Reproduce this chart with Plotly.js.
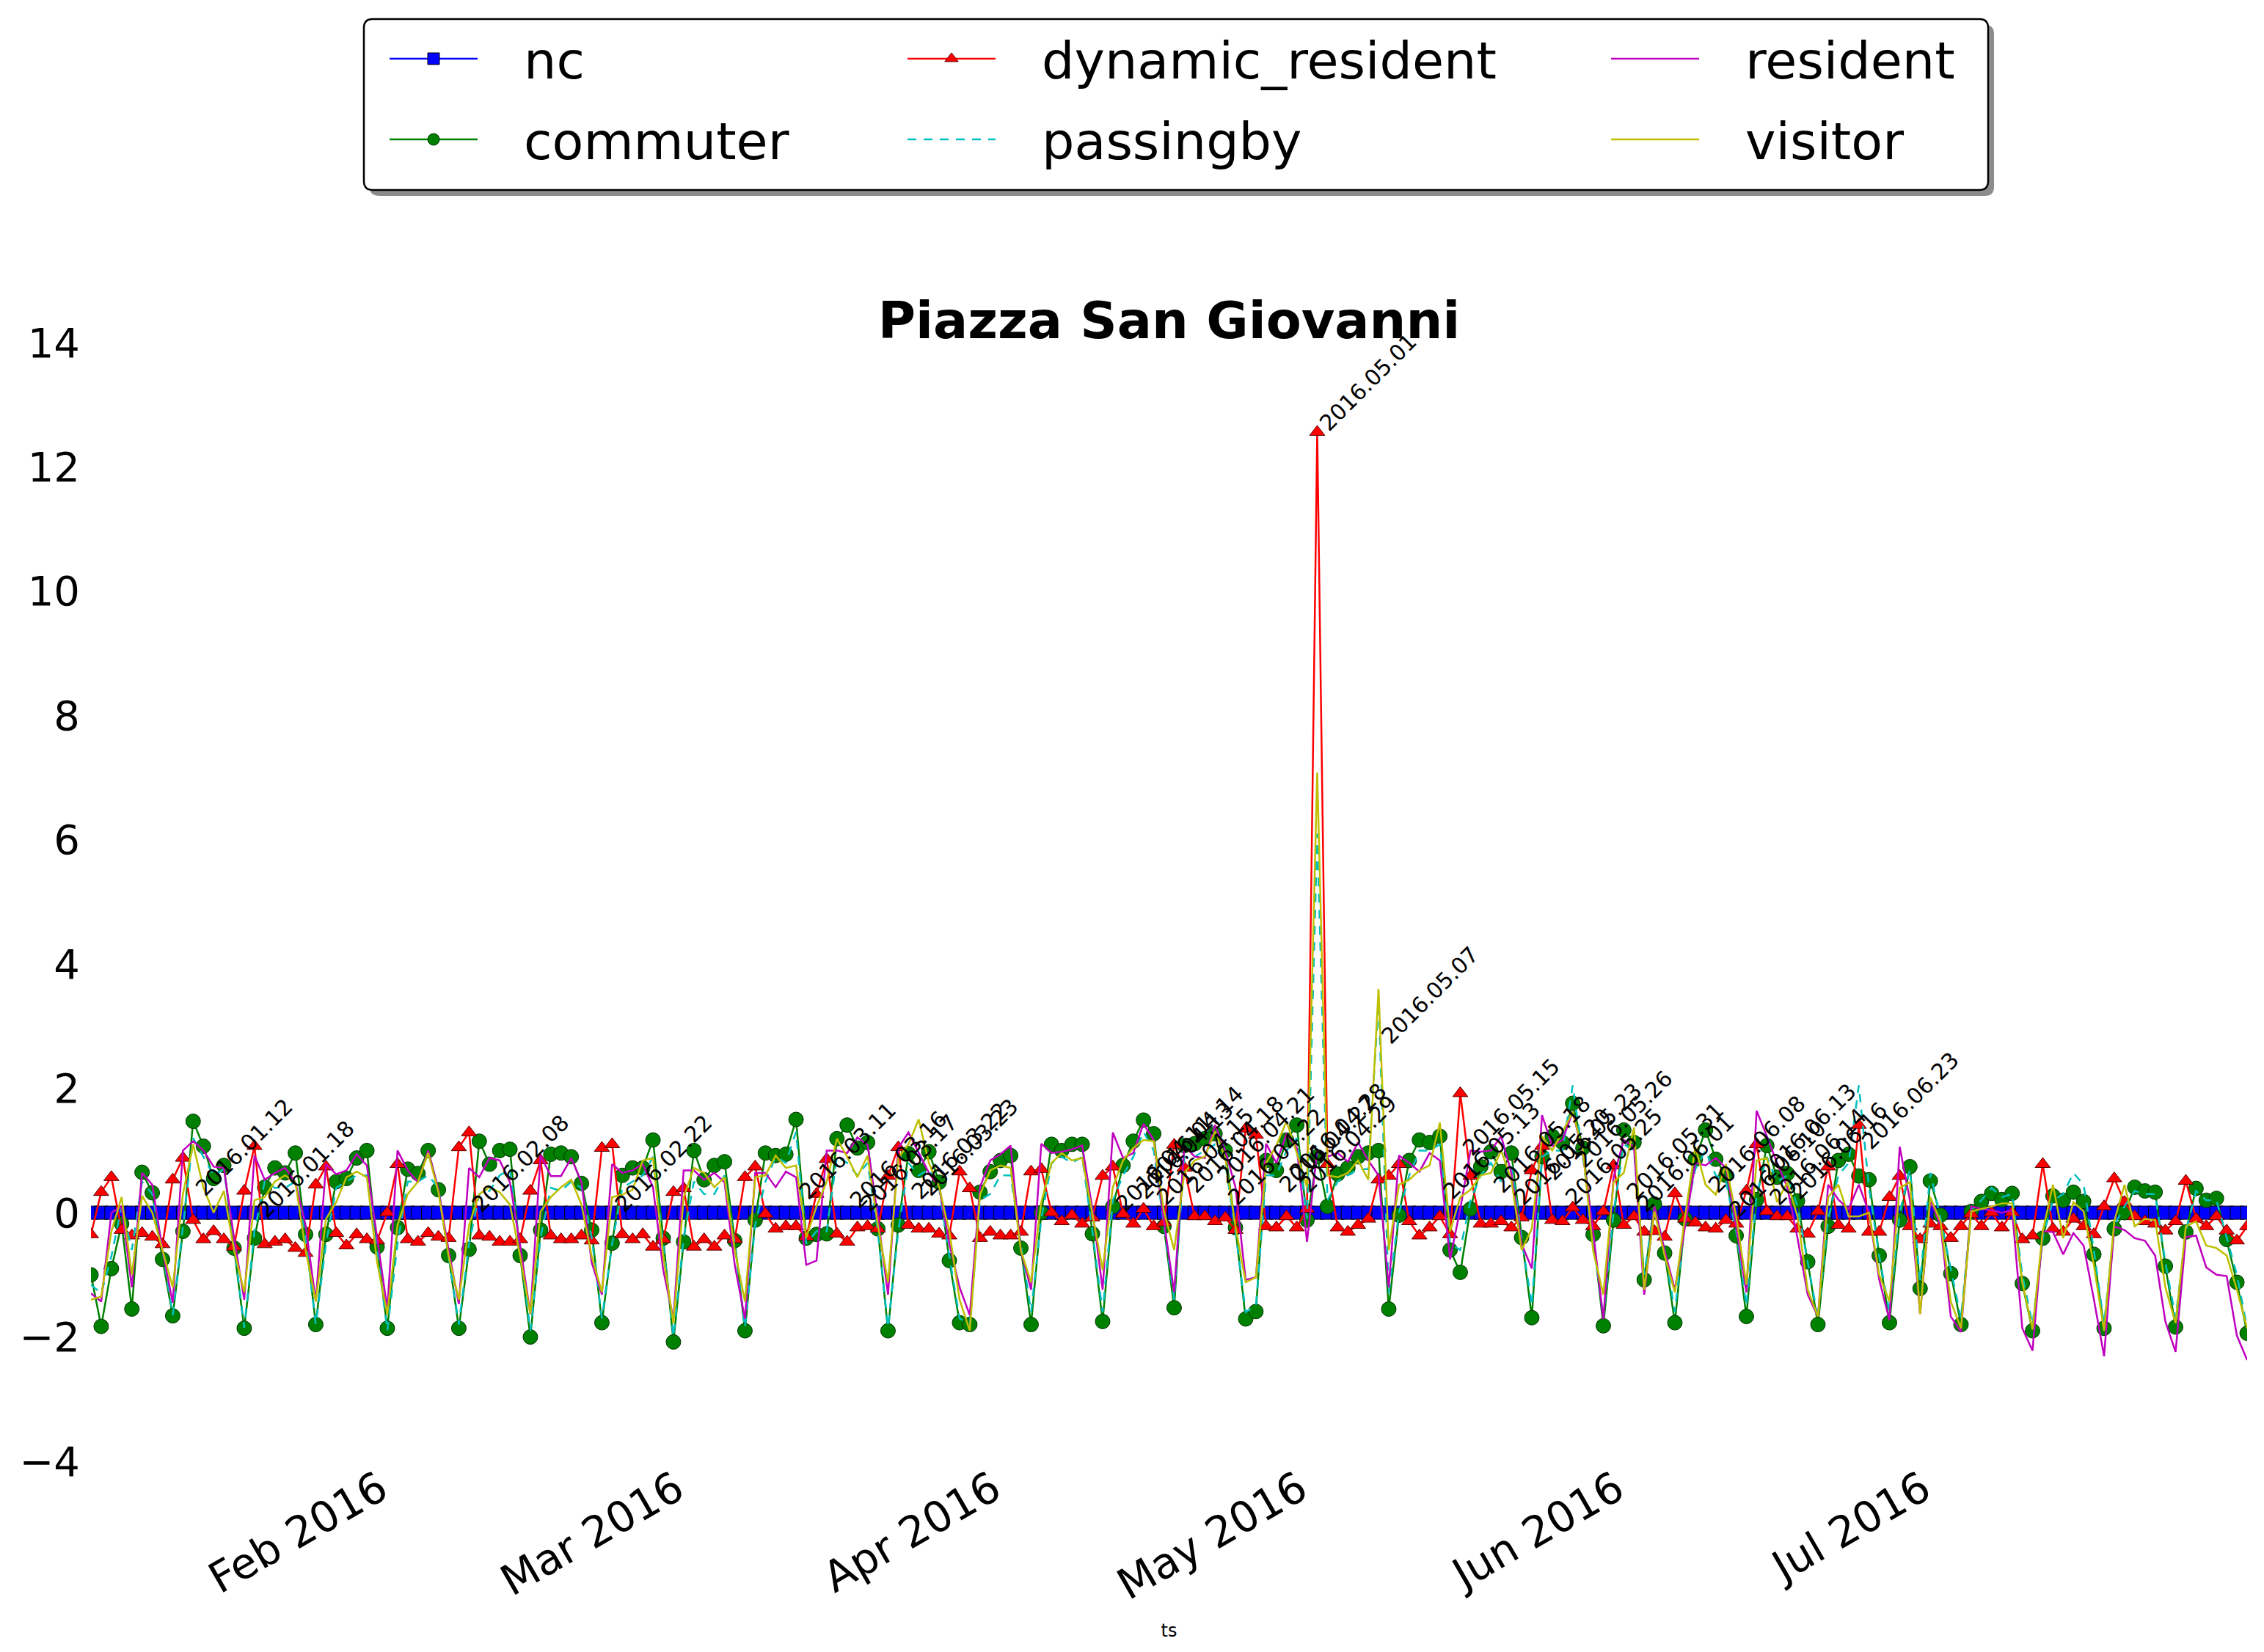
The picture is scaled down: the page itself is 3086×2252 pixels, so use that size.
<!DOCTYPE html>
<html>
<head>
<meta charset="utf-8">
<script src="https://cdn.plot.ly/plotly-3.0.1.min.js"></script>
<style>html,body{margin:0;padding:0;background:#fff;}#chart{width:3086px;height:2252px;}</style>
</head>
<body>
<div id="chart"></div>
<script>
// ---- data (daily values, starting 2016-01-02) ----
const startDate = [2016, 0, 2];

const nc = [
0,0,0,0,0,0,0,0,0,0, 0,0,0,0,0,0,0,0,0,0, 0,0,0,0,0,0,0,0,0,0, 0,0,0,0,0,0,0,0,0,0,
0,0,0,0,0,0,0,0,0,0, 0,0,0,0,0,0,0,0,0,0, 0,0,0,0,0,0,0,0,0,0, 0,0,0,0,0,0,0,0,0,0,
0,0,0,0,0,0,0,0,0,0, 0,0,0,0,0,0,0,0,0,0, 0,0,0,0,0,0,0,0,0,0, 0,0,0,0,0,0,0,0,0,0,
0,0,0,0,0,0,0,0,0,0, 0,0,0,0,0,0,0,0,0,0, 0,0,0,0,0,0,0,0,0,0, 0,0,0,0,0,0,0,0,0,0,
0,0,0,0,0,0,0,0,0,0, 0,0,0,0,0,0,0,0,0,0, 0,0,0,0,0,0,0,0,0,0, 0,0,0,0,0,0,0,0,0,0,
0,0,0,0,0,0,0,0,0,0, 0,0
];

const commuter = [
-1.0,-1.83,-0.9,-0.18,-1.55,0.65,0.32,-0.75,-1.66,-0.3,
1.47,1.07,0.55,0.76,-0.57,-1.86,-0.41,0.41,0.72,0.64,
0.96,-0.35,-1.8,-0.35,0.5,0.55,0.88,1.0,-0.55,-1.86,
-0.24,0.7,0.63,1.0,0.37,-0.69,-1.86,-0.59,1.15,0.78,
1.0,1.02,-0.69,-2.0,-0.28,0.94,0.96,0.9,0.47,-0.28,
-1.77,-0.49,0.6,0.72,0.72,1.17,-0.41,-2.08,-0.47,1.0,
0.53,0.76,0.82,-0.45,-1.9,-0.12,0.96,0.92,0.94,1.5,
-0.41,-0.35,-0.34,1.19,1.41,1.04,1.13,-0.26,-1.9,-0.2,
0.95,0.68,0.98,0.49,-0.77,-1.77,-1.8,0.33,0.66,0.84,
0.92,-0.57,-1.8,0.0,1.1,1.0,1.1,1.1,-0.34,-1.75,
0.1,0.76,1.15,1.49,1.27,-0.22,-1.53,1.08,1.11,1.19,
1.27,1.0,-0.24,-1.71,-1.59,0.84,0.68,1.17,1.41,-0.12,
0.9,0.1,0.62,0.72,0.9,0.96,1.0,-1.55,-0.04,0.84,
1.17,1.13,1.23,-0.6,-0.96,0.06,0.74,0.98,0.66,0.96,
-0.4,-1.69,0.9,1.23,1.13,1.76,1.04,-0.35,-1.82,-0.12,
1.33,1.13,-1.08,0.14,-0.65,-1.77,-0.1,0.86,1.33,0.86,
0.6,-0.37,-1.67,0.21,1.08,0.57,0.63,0.19,-0.79,-1.8,
-0.22,0.84,0.94,0.59,0.53,-0.69,-1.77,-0.12,0.74,-1.22,
0.51,-0.04,-0.98,-1.8,0.02,0.18,0.31,0.21,0.31,-1.14,
-1.9,-0.41,0.27,0.2,0.33,0.18,-0.67,-1.86,-0.26,0.0,
0.41,0.35,0.33,-0.86,-1.84,-0.31,0.39,0.2,0.23,-0.43,
-1.12,-1.94
];

const dynamicResident = [
-0.35,0.33,0.57,-0.28,-0.37,-0.33,-0.39,-0.51,0.53,0.88,
-0.12,-0.43,-0.3,-0.43,-0.55,0.35,1.07,-0.51,-0.47,-0.43,
-0.57,-0.65,0.45,0.74,-0.33,-0.53,-0.35,-0.43,-0.45,0.0,
0.78,-0.43,-0.47,-0.33,-0.39,-0.41,1.05,1.29,-0.37,-0.39,
-0.47,-0.47,-0.43,0.35,0.84,-0.37,-0.43,-0.43,-0.37,-0.45,
1.04,1.1,-0.35,-0.43,-0.35,-0.55,-0.43,0.33,0.39,-0.55,
-0.43,-0.55,-0.37,-0.43,0.57,0.74,-0.02,-0.26,-0.22,-0.22,
-0.39,0.3,0.86,-0.34,-0.47,-0.24,-0.22,-0.26,0.59,1.05,
-0.2,-0.26,-0.26,-0.34,-0.37,0.66,0.39,-0.41,-0.31,-0.37,
-0.37,-0.31,0.66,0.7,0.0,-0.14,-0.04,-0.18,-0.08,0.59,
0.74,-0.02,-0.18,0.06,-0.22,-0.16,1.09,0.72,-0.06,-0.06,
-0.14,-0.08,-0.28,1.35,1.25,-0.22,-0.24,-0.06,-0.24,0.06,
12.56,0.78,-0.24,-0.31,-0.2,-0.1,0.53,0.59,0.78,-0.14,
-0.37,-0.24,-0.06,-0.35,1.92,0.59,-0.18,-0.18,-0.14,-0.24,
-0.08,0.68,1.07,-0.12,-0.14,0.08,-0.12,-0.22,0.02,0.76,
-0.2,-0.06,-0.31,-0.3,-0.39,0.31,-0.1,-0.16,-0.24,-0.26,
-0.12,-0.18,0.35,1.1,0.02,-0.06,-0.06,-0.26,-0.34,0.02,
0.74,-0.2,-0.26,1.41,-0.31,-0.31,0.25,0.59,-0.22,-0.43,
-0.18,-0.22,-0.41,-0.22,-0.02,-0.22,0.0,-0.24,0.0,-0.43,
-0.37,0.78,-0.26,-0.31,-0.1,-0.22,-0.35,0.1,0.55,0.17,
-0.06,-0.14,-0.18,-0.29,-0.14,0.51,-0.1,-0.22,-0.06,-0.29,
-0.45,-0.22
];

const passingby = [
-1.16,-1.3,-0.7,0.1,-0.6,0.5,0.3,-0.6,-1.65,-0.2,
1.2,0.9,0.6,0.7,-0.5,-1.85,-0.3,0.5,0.4,0.4,
0.5,-0.4,-1.8,-0.5,0.4,0.5,0.6,0.6,-0.6,-1.9,
-0.5,0.5,0.5,0.6,0.4,-0.7,-1.8,-0.5,0.3,0.35,
0.6,0.7,-0.6,-1.9,-0.4,0.4,0.35,0.5,0.4,-0.4,
-1.7,-0.5,0.4,0.5,0.6,0.9,-0.5,-2.0,-0.4,0.5,
0.3,0.3,0.6,-0.5,-1.85,-0.2,0.5,0.9,0.8,1.3,
-0.5,-0.3,-0.3,0.9,0.8,0.6,0.8,-0.3,-1.85,-0.3,
0.8,0.6,0.7,0.4,-0.7,-1.7,-1.8,0.2,0.3,0.6,
0.6,-0.5,-1.6,-0.1,0.8,0.9,0.8,0.9,-0.3,-1.6,
0.2,0.6,0.9,1.3,1.0,-0.2,-1.4,0.9,0.9,1.0,
1.1,0.8,-0.3,-1.6,-1.5,0.6,0.6,1.0,1.2,-0.1,
6.1,0.2,0.5,0.6,0.7,0.7,3.4,-1.3,0.0,0.6,
1.0,1.0,1.1,-0.5,-0.6,0.2,0.6,0.8,0.5,0.8,
-0.4,-1.5,0.9,1.0,1.0,2.05,0.9,-0.4,-1.7,0.0,
1.1,1.0,-1.0,0.1,-0.6,-1.6,-0.1,0.7,1.0,0.6,
0.5,-0.3,-1.5,0.3,0.9,0.5,0.6,0.1,-0.8,-1.7,
-0.1,0.6,0.8,2.05,0.4,-0.7,-1.6,0.0,0.7,-1.1,
0.64,-0.1,-0.9,-1.7,0.05,0.2,0.4,0.25,0.3,-1.0,
-1.8,-0.4,0.2,0.3,0.64,0.45,-0.6,-1.8,-0.2,0.1,
0.35,0.3,0.3,-0.8,-1.7,-0.3,0.35,0.2,0.2,-0.4,
-1.0,-1.85
];

const resident = [
-1.3,-1.43,0.0,0.1,-1.2,0.64,0.45,-0.6,-1.45,1.0,
1.15,1.0,0.74,0.72,-0.4,-1.4,0.92,0.53,0.64,0.72,
0.49,-0.2,-1.43,0.78,0.62,0.68,0.94,0.76,-0.4,-1.55,
1.0,0.68,0.49,1.0,0.37,-0.6,-1.47,0.72,0.57,0.88,
0.84,0.49,-0.53,-1.63,0.92,0.59,0.59,0.88,0.49,-0.8,
-1.32,0.78,0.64,0.68,0.78,0.41,-0.92,-1.71,0.68,0.68,
0.53,0.64,0.49,-0.84,-1.71,0.64,0.64,0.41,0.66,0.57,
-0.84,-0.77,1.0,1.0,0.96,1.21,1.09,-0.06,-1.32,1.04,
1.29,0.96,0.64,0.41,-0.5,-1.2,-1.65,0.41,0.84,0.94,
1.08,-0.61,-1.24,1.11,0.96,0.98,1.02,1.08,0.06,-1.24,
1.29,0.88,0.96,1.43,1.17,-0.14,-1.28,1.08,0.9,0.88,
1.41,1.0,0.41,-1.08,-1.04,1.11,0.8,1.27,1.04,-0.47,
1.0,0.9,0.96,0.82,1.13,0.84,0.6,-1.2,0.92,0.8,
0.66,0.96,0.84,-0.75,0.06,1.0,0.98,1.0,1.23,0.64,
-0.5,-0.9,1.57,1.07,1.17,1.62,0.96,-0.3,-1.71,0.57,
1.17,1.06,-1.32,0.1,-0.61,-1.24,-0.2,0.8,0.76,0.88,
0.72,-0.22,-1.28,1.64,1.23,0.8,0.41,-0.41,-1.32,-1.67,
0.45,0.21,0.06,0.45,0.0,-1.08,-1.73,1.06,0.2,-1.63,
0.2,-0.2,-1.67,-1.92,0.1,0.06,0.04,0.0,0.04,-1.86,
-2.22,-0.3,-0.31,-0.67,-0.33,-0.53,-1.39,-2.31,-0.22,-0.28,
-0.41,-0.45,-0.69,-1.75,-2.24,-0.39,-0.37,-0.88,-1.0,-1.02,
-1.98,-2.37
];

const visitor = [
-1.4,-1.35,-0.3,0.25,-1.0,0.27,0.0,-0.6,-1.2,0.3,
1.1,0.4,0.0,0.35,-0.6,-1.28,0.2,0.25,0.5,0.6,
0.49,-0.6,-1.43,-0.1,0.17,0.57,0.66,0.57,-0.8,-1.63,
-0.2,0.3,0.5,0.96,0.33,-0.7,-1.4,-0.2,0.3,0.41,
0.33,0.13,-0.7,-1.63,0.02,0.25,0.41,0.53,0.13,-0.7,
-1.28,0.25,0.29,0.37,0.84,0.88,-0.7,-1.78,0.25,0.72,
0.64,0.41,0.57,-0.6,-1.43,0.57,0.6,0.92,0.72,0.76,
-0.4,0.1,0.5,1.19,0.9,0.57,0.92,-0.2,-1.12,0.88,
1.1,1.5,0.8,0.41,-0.3,-1.4,-1.9,0.29,0.68,0.76,
0.72,-0.61,-1.12,0.17,0.8,0.96,0.84,0.88,-0.02,-0.92,
0.41,0.84,1.04,1.17,1.15,0.02,-0.6,0.64,0.84,0.9,
1.31,0.88,-0.22,-1.12,-1.04,0.8,1.08,1.47,0.96,0.41,
7.08,0.6,0.57,0.64,0.84,0.53,3.6,-0.6,0.45,0.53,
0.68,0.76,1.45,-0.3,0.25,0.37,0.6,0.64,1.0,0.53,
-0.6,-0.26,1.23,1.0,1.3,1.62,1.0,-0.61,-1.32,0.49,
0.64,1.37,-1.24,0.02,-0.69,-1.28,-0.06,1.06,0.45,0.29,
0.78,-0.06,-1.16,0.84,0.88,0.17,0.49,-0.06,-1.24,-1.67,
0.25,0.45,-0.06,-0.06,0.0,-1.0,-1.43,0.4,0.49,-1.63,
0.25,-0.14,-1.43,-1.86,0.02,0.06,0.1,0.15,0.15,-1.12,
-1.88,-0.3,0.45,-0.41,0.17,0.02,-0.84,-1.9,-0.14,0.45,
-0.22,-0.1,-0.12,-1.2,-1.78,-0.22,-0.14,-0.53,-0.57,-0.69,
-1.24,-1.86
];

// annotated dates and the height of their labels
const annDates = ["2016-01-12","2016-01-18","2016-02-08","2016-02-22","2016-03-11","2016-03-16","2016-03-17",
"2016-03-22","2016-03-23","2016-04-11","2016-04-13","2016-04-14","2016-04-15","2016-04-18","2016-04-21",
"2016-04-22","2016-04-27","2016-04-28","2016-04-29","2016-05-01","2016-05-07","2016-05-13","2016-05-15",
"2016-05-18","2016-05-20","2016-05-23","2016-05-25","2016-05-26","2016-05-31","2016-06-01","2016-06-08",
"2016-06-10","2016-06-13","2016-06-14","2016-06-16","2016-06-23"];
const annValues = [0.25,-0.1,0.0,0.0,0.2,0.05,0.0,
0.2,0.25,0.0,0.2,0.45,0.1,0.3,0.45,
0.1,0.3,0.5,0.3,12.56,2.7,0.2,0.9,
0.3,0.1,0.5,0.1,0.7,0.2,0.0,0.3,
-0.1,0.5,0.1,0.2,1.0];

const tickVals = ["2016-02-01","2016-03-01","2016-04-01","2016-05-01","2016-06-01","2016-07-01"];
const tickText = ["Feb 2016","Mar 2016","Apr 2016","May 2016","Jun 2016","Jul 2016"];
const xRange = ["2016-01-02","2016-07-31"];

// ---- build ----
const dates = commuter.map((_, i) => new Date(Date.UTC(startDate[0], startDate[1], startDate[2] + i)).toISOString().slice(0, 10));

const FONT = 'DejaVu Sans, Liberation Sans, sans-serif';
const GAP = '\u2002\u2004';
const LW = 2.5;

const traces = [
  {name:GAP + 'nc', x:dates, y:nc, mode:'lines+markers', legend:'legend', legendgroup:'a',
   line:{color:'#0000ff', width:LW}, marker:{symbol:'square', size:18, color:'#0000ff', line:{color:'#000000', width:1}}},
  {name:GAP + 'commuter', x:dates, y:commuter, mode:'lines+markers', legend:'legend', legendgroup:'b',
   line:{color:'#008000', width:LW}, marker:{symbol:'circle', size:20, color:'#008000', line:{color:'#003300', width:1}}},
  {name:GAP + 'dynamic_resident', x:dates, y:dynamicResident, mode:'lines+markers', legend:'legend2', legendgroup:'c',
   line:{color:'#ff0000', width:LW}, marker:{symbol:'triangle-up', size:18, color:'#ff0000', line:{color:'#550000', width:1}}},
  {name:GAP + 'passingby', x:dates, y:passingby, mode:'lines', legend:'legend2', legendgroup:'d',
   line:{color:'#00bfbf', width:LW, dash:'12px,10px'}},
  {name:GAP + 'resident', x:dates, y:resident, mode:'lines', legend:'legend3', legendgroup:'e',
   line:{color:'#bf00bf', width:LW}},
  {name:GAP + 'visitor', x:dates, y:visitor, mode:'lines', legend:'legend3', legendgroup:'f',
   line:{color:'#bfbf00', width:LW}}
];

// plot area in pixels (for the legend frame)
const W = 3086, H = 2252;
const M = {l:124, r:23, t:467, b:260, autoexpand:false};
const pw = W - M.l - M.r, ph = H - M.t - M.b;
const px = v => (v - M.l) / pw;
const py = v => (H - M.b - v) / ph;
function roundRect(x0, y0, x1, y1, r) {
  const P = (x, y) => px(x) + ',' + py(y);
  return 'M' + P(x0 + r, y0) + ' L' + P(x1 - r, y0) + ' Q' + P(x1, y0) + ' ' + P(x1, y0 + r) +
         ' L' + P(x1, y1 - r) + ' Q' + P(x1, y1) + ' ' + P(x1 - r, y1) +
         ' L' + P(x0 + r, y1) + ' Q' + P(x0, y1) + ' ' + P(x0, y1 - r) +
         ' L' + P(x0, y0 + r) + ' Q' + P(x0, y0) + ' ' + P(x0 + r, y0) + ' Z';
}

const annotations = annDates.map((d, i) => ({
  x: d, y: annValues[i], xref:'x', yref:'y', text: d.replace(/-/g, '.'),
  showarrow:false, textangle:-45, xanchor:'left', yanchor:'bottom', xshift:-6, yshift:-8,
  font:{family:FONT, size:30, color:'#000000'}
}));

const legendCommon = {
  orientation:'v', xref:'container', yref:'container', xanchor:'left', yanchor:'top',
  bgcolor:'rgba(0,0,0,0)', borderwidth:0, font:{family:FONT, size:70, color:'#000000'},
  itemwidth:120, tracegroupgap:16, traceorder:'grouped'
};

const layout = {
  width:W, height:H,
  margin:M,
  paper_bgcolor:'#ffffff', plot_bgcolor:'#ffffff',
  font:{family:FONT, color:'#000000'},
  showlegend:true,
  title:{text:'Piazza San Giovanni', font:{family:FONT, size:70, weight:'bold', color:'#000000'},
         x:0.5, xref:'paper', xanchor:'center', y:1 - 436/H, yref:'container', yanchor:'middle'},
  xaxis:{type:'date', range:xRange, showgrid:false, zeroline:false, showline:false, ticks:'',
         tickmode:'array', tickvals:tickVals, ticktext:tickText, tickangle:-30,
         ticklabelshift:-24, ticklabelstandoff:-8,
         tickfont:{family:FONT, size:58, color:'#000000'},
         title:{text:'ts', font:{family:FONT, size:24, color:'#000000'}, standoff:20}},
  yaxis:{range:[-4, 14], dtick:2, tick0:0, showgrid:false, zeroline:false, showline:false, ticks:'',
         ticklabelstandoff:14,
         tickfont:{family:FONT, size:56, color:'#000000'}},
  legend: Object.assign({}, legendCommon, {x:526/W, y:1 - 28/H}),
  legend2: Object.assign({}, legendCommon, {x:1232/W, y:1 - 28/H}),
  legend3: Object.assign({}, legendCommon, {x:2191/W, y:1 - 28/H}),
  shapes:[
    {type:'path', xref:'paper', yref:'paper', layer:'above', path:roundRect(504, 34, 2718, 267, 12),
     fillcolor:'rgba(0,0,0,0.45)', line:{width:0}},
    {type:'path', xref:'paper', yref:'paper', layer:'above', path:roundRect(496, 26, 2710, 259, 12),
     fillcolor:'#ffffff', line:{color:'#000000', width:2.5}}
  ],
  annotations:annotations
};

Plotly.newPlot('chart', traces, layout, {displayModeBar:false, staticPlot:true});
</script>
</body>
</html>
